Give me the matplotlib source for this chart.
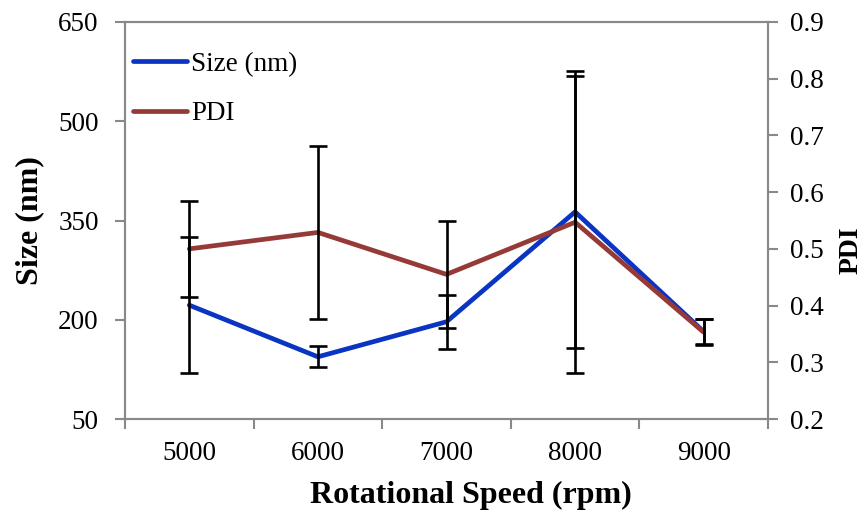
import matplotlib
matplotlib.use("Agg")
import matplotlib.pyplot as plt
import numpy as np

# Rotational speed categories
speeds = ["5000", "6000", "7000", "8000", "9000"]

# Particle size (nm) and its standard deviation
size_nm = [222, 144, 197, 363, 182]
size_err = [103, 16, 41, 206, 19]

# Polydispersity index and its standard deviation
pdi = [0.500, 0.529, 0.455, 0.547, 0.353]
pdi_err = [0.085, 0.152, 0.095, 0.266, 0.023]

size_ticks = [50, 200, 350, 500, 650]
pdi_ticks = [0.2, 0.3, 0.4, 0.5, 0.6, 0.7, 0.8, 0.9]

plt.rcParams["font.family"] = ["Liberation Serif", "DejaVu Serif"]

BLUE = "#0a34c2"
RED = "#963a38"
GRID = "#898989"

fig = plt.figure(figsize=(8.67, 5.14), dpi=100)
ax = fig.add_axes([0.1442, 0.1848, 0.7416, 0.7724])
ax2 = ax.twinx()

x = np.arange(len(speeds))

# Lines
ax.plot(x, size_nm, color=BLUE, lw=3.4, solid_capstyle="round", zorder=2, label="Size (nm)")
ax2.plot(x, pdi, color=RED, lw=3.4, solid_capstyle="round", zorder=2, label="PDI")

# Error bars (drawn above both lines)
ax2.errorbar(x, size_nm, yerr=size_err, fmt="none", ecolor="black", elinewidth=1.9,
             capsize=6.2, capthick=1.9, transform=ax.transData, zorder=4)
ax2.errorbar(x, pdi, yerr=pdi_err, fmt="none", ecolor="black", elinewidth=1.9,
             capsize=6.2, capthick=1.9, zorder=4)

# Axis limits
ax.set_xlim(-0.5, len(speeds) - 0.5)
ax.set_ylim(50, 650)
ax2.set_ylim(0.2, 0.9)

# X ticks: marks between categories, labels at category centres
ax.set_xticks(np.arange(-0.5, len(speeds), 1.0))
ax.set_xticklabels([])
ax.set_xticks(x, minor=True)
ax.set_xticklabels(speeds, minor=True, fontsize=19.5)
ax.tick_params(axis="x", which="major", direction="out", length=7, width=1.5, color=GRID)
ax.tick_params(axis="x", which="minor", length=0, pad=16)

ax.set_yticks(size_ticks)
ax.set_yticklabels([str(v) for v in size_ticks], fontsize=19.5)
ax.tick_params(axis="y", direction="out", length=7, width=1.5, color=GRID, pad=12)

ax2.set_yticks(pdi_ticks)
ax2.set_yticklabels([f"{v:.1f}" for v in pdi_ticks], fontsize=19.5)
ax2.tick_params(axis="y", direction="out", length=7, width=1.5, color=GRID, pad=9)

for a in (ax, ax2):
    for s in a.spines.values():
        s.set_color(GRID)
        s.set_linewidth(1.5)

ax.set_xlabel("Rotational Speed (rpm)", fontsize=23, fontweight="bold")
ax.xaxis.set_label_coords(0.538, -0.155)
ax.set_ylabel("Size (nm)", fontsize=23, fontweight="bold")
ax.yaxis.set_label_coords(-0.126, 0.5)
ax2.set_ylabel("PDI", fontsize=20, fontweight="bold")
ax2.yaxis.set_label_coords(1.109, 0.425)

# Legend
h1, l1 = ax.get_legend_handles_labels()
h2, l2 = ax2.get_legend_handles_labels()
leg = ax2.legend(h1 + h2, l1 + l2, loc="upper left", bbox_to_anchor=(0.0124, 0.925),
                 frameon=False, fontsize=19.5, handlelength=2.0, handletextpad=0.14,
                 labelspacing=0.9, borderaxespad=0.0, borderpad=0.0)

fig.savefig("out.png", dpi=100)
